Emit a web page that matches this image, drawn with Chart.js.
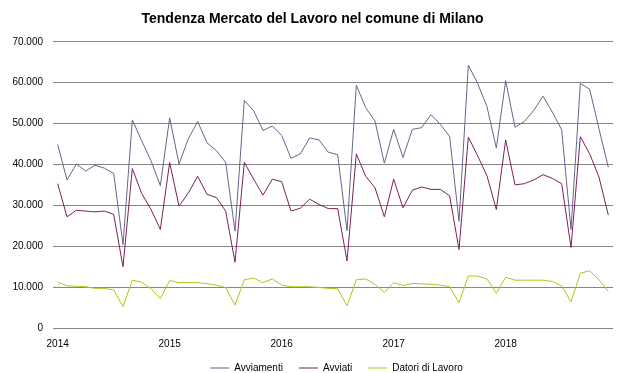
<!DOCTYPE html>
<html>
<head>
<meta charset="utf-8">
<script src="https://cdn.jsdelivr.net/npm/chart.js@4"></script>
<style>
  html, body { margin: 0; padding: 0; background: #fff; }
  #wrap { width: 638px; height: 373px; }
</style>
</head>
<body>
<div id="wrap"><canvas id="grafico" width="638" height="373"></canvas></div>
<script>
/* dati mensili 2014-2018 */
let anni = ["2014", "2015", "2016", "2017", "2018"];
let mesi = [];
anni.forEach(a => { for (let m = 1; m <= 12; m++) mesi.push(a + "-" + (m < 10 ? "0" + m : m)); });

let avviamenti = [
  44900, 36200, 40100, 38400, 39800, 39100, 37800, 20400, 50900, 45800, 40900, 34800,
  51400, 40100, 46300, 50500, 45300, 43400, 40500, 23700, 55700, 53100, 48300, 49400,
  47100, 41500, 42600, 46500, 46000, 43000, 42400, 23800, 59400, 53900, 50600, 40300,
  48600, 41700, 48600, 49000, 52200, 49800, 46800, 26100, 64300, 59800, 54100, 44000,
  60500, 49100, 50500, 53200, 56700, 52800, 48500, 24100, 59800, 58400, 48700, 39300
];
let avviati = [
  35300, 27200, 28800, 28600, 28400, 28600, 27800, 15000, 39000, 32900, 29000, 24100,
  40500, 29800, 33000, 37100, 32700, 31900, 28600, 16100, 40500, 36400, 32500, 36400,
  35800, 28600, 29300, 31500, 30200, 29200, 29200, 16400, 42600, 37100, 34300, 27200,
  36400, 29400, 33700, 34500, 33900, 33900, 32300, 19200, 46700, 42100, 37200, 29000,
  46000, 35000, 35300, 36200, 37500, 36600, 35300, 19700, 46800, 42600, 36900, 27600
];
let datori = [
  11200, 10300, 10200, 10100, 9700, 9700, 9300, 5200, 11700, 11200, 9600, 7200,
  11600, 11100, 11100, 11100, 10800, 10500, 9900, 5600, 11800, 12200, 11100, 12000,
  10500, 10100, 10100, 10100, 9900, 9700, 9600, 5400, 11800, 12000, 10700, 8700,
  11100, 10400, 10900, 10800, 10700, 10500, 10100, 6200, 12700, 12700, 12000, 8500,
  12400, 11700, 11700, 11700, 11700, 11400, 10300, 6400, 13400, 14000, 11800, 8900
];

function migliaia(v) {
  return String(v).replace(/\B(?=(\d{3})+(?!\d))/g, ".");
}

function serie(nome, valori, colore) {
  return {
    label: nome,
    data: valori,
    borderColor: colore,
    backgroundColor: colore,
    borderWidth: 1,
    pointRadius: 0,
    tension: 0,
    fill: false
  };
}

/* sposta legenda e titolo un po' come nell'originale */
const sposta = {
  id: "sposta",
  afterLayout(chart) {
    chart.legend.left += 30;
    chart.legend.right += 30;
    chart.legend.top -= 5;
    chart.legend.bottom -= 5;
    chart.titleBlock.left += 6;
    chart.titleBlock.right += 6;
  }
};

const config = {
  type: 'line',
  data: {
    labels: mesi,
    datasets: [
      serie("Avviamenti", avviamenti, "#65658f"),
      serie("Avviati", avviati, "#7d1f5a"),
      serie("Datori di Lavoro", datori, "#b3c417")
    ]
  },
  options: {
    responsive: false,
    animation: false,
    layout: { padding: { left: 0, right: 25, top: 0, bottom: -15 } },
    plugins: {
      title: {
        display: true,
        text: "Tendenza Mercato del Lavoro nel comune di Milano",
        color: "#000",
        font: { family: "Liberation Sans", size: 14, weight: "bold" },
        padding: { top: 11, bottom: 14 }
      },
      legend: {
        position: 'bottom',
        labels: {
          usePointStyle: true,
          pointStyle: 'line',
          pointStyleWidth: 19,
          color: "#000",
          font: { family: "Liberation Sans", size: 10 },
          padding: 16
        }
      },
      tooltip: { enabled: false }
    },
    scales: {
      x: {
        offset: true,
        grid: { display: false, drawTicks: false },
        border: { display: false },
        afterFit: s => { s.height = 24; },
        ticks: {
          autoSkip: false,
          maxRotation: 0,
          padding: 10,
          color: "#000",
          font: { family: "Liberation Sans", size: 10 },
          callback: function (v, i) {
            let l = mesi[i];
            return l.endsWith("-01") ? l.slice(0, 4) : "";
          }
        }
      },
      y: {
        min: 0,
        max: 70000,
        afterFit: s => { s.width = 53; },
        grid: { color: "#868686", drawTicks: false },
        border: { display: false },
        ticks: {
          stepSize: 10000,
          padding: 10,
          color: "#000",
          font: { family: "Liberation Sans", size: 10 },
          callback: v => migliaia(v)
        }
      }
    }
  },
  plugins: [sposta]
};

window.onload = function () {
  new Chart(document.getElementById("grafico"), config);
};
</script>
</body>
</html>
